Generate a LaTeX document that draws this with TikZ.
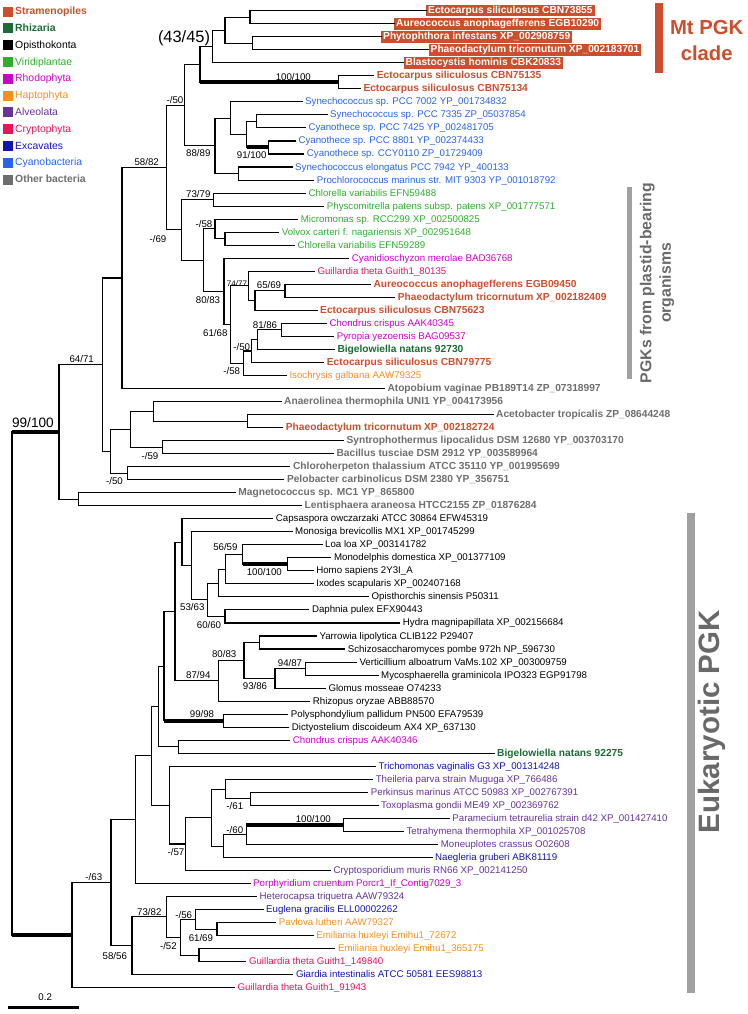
\documentclass[tikz,border=0pt]{standalone}
\usepackage{fontspec}
\setmainfont{Liberation Sans}
\usetikzlibrary{calc}
\definecolor{cStr}{RGB}{204,78,44}
\definecolor{cRhi}{RGB}{27,107,52}
\definecolor{cVir}{RGB}{45,175,45}
\definecolor{cRho}{RGB}{204,0,204}
\definecolor{cHap}{RGB}{247,143,30}
\definecolor{cAlv}{RGB}{102,51,153}
\definecolor{cCry}{RGB}{232,20,90}
\definecolor{cExc}{RGB}{20,20,180}
\definecolor{cCya}{RGB}{40,100,235}
\definecolor{cBac}{RGB}{110,110,110}
\definecolor{cBar}{RGB}{160,160,160}
\definecolor{cTxt}{RGB}{105,105,105}
\newcommand\tipfont{\fontsize{9.7}{11}\selectfont}
\newcommand\tipbold{\fontsize{10.2}{12}\selectfont\bfseries}
\newcommand\lgfont{\fontsize{10.4}{12}\selectfont}
\newcommand\tp[4]{\coordinate (t#1) at ({#2-3},{10.7+13.027*(#1-1)});
  \node[lab,#3] (l#1) at (#2,{10.7+13.027*(#1-1)}) {#4};}
\newcommand\bx[3]{\coordinate (t#1) at (#2,{10.7+13.027*(#1-1)});
  \node[boxlab] (l#1) at (t#1) {#3};}
\newcommand\nd[4]{\path let \p1=($(#3)!.5!(#4)$) in (#2pt,\y1) coordinate (#1);
  \draw[br] (#1) |- (#3); \draw[br] (#1) |- (#4);}
\newcommand\thk[2]{\draw[thk] (#1 |- #2) -- (#2);}
\newcommand\sv[4][]{\node[sup,#1] (#2) at (#3) {#4};}
\newcommand\lgd[5]{\node[lsq,fill=#3] (q#1) at (7.7,#2) {};
  \node[lab,text=#3,font=\lgfont#4] (g#1) at (15,#2) {#5};}
\tikzset{
  br/.style={line width=1.1pt, line cap=rect},
  thk/.style={line width=4pt},
  lab/.style={anchor=west, inner sep=0pt, font=\tipfont, text height=7pt, text depth=1pt},
  boxlab/.style={anchor=west, fill=cStr, text=white, font=\tipbold, inner xsep=2pt, inner ysep=0.9pt, text height=7.6pt, text depth=2.2pt},
  sup/.style={inner sep=0pt, font=\tipfont},
  lsq/.style={inner sep=0pt, minimum size=10pt},
  str/.style={text=cStr, font=\tipbold},
  rhi/.style={text=cRhi, font=\tipbold},
  opi/.style={text=black},
  vir/.style={text=cVir},
  rho/.style={text=cRho},
  hap/.style={text=cHap},
  alv/.style={text=cAlv},
  cry/.style={text=cCry},
  exc/.style={text=cExc},
  cya/.style={text=cCya},
  bac/.style={text=cBac, font=\tipbold},
}
\begin{document}
\begin{tikzpicture}[x=1pt,y=-1pt]
\useasboundingbox (0,0) rectangle (747,1014);
% legend
\lgd{1}{11.7}{cStr}{\bfseries}{Stramenopiles}
\lgd{2}{28.5}{cRhi}{\bfseries}{Rhizaria}
\lgd{3}{45.3}{black}{}{Opisthokonta}
\lgd{4}{62.1}{cVir}{}{Viridiplantae}
\lgd{5}{78.9}{cRho}{}{Rhodophyta}
\lgd{6}{95.7}{cHap}{}{Haptophyta}
\lgd{7}{112.5}{cAlv}{}{Alveolata}
\lgd{8}{129.3}{cCry}{}{Cryptophyta}
\lgd{9}{146.1}{cExc}{}{Excavates}
\lgd{10}{162.9}{cCya}{}{Cyanobacteria}
\lgd{11}{179.7}{cBac}{\bfseries}{Other bacteria}
% tips
\bx{1}{426}{Ectocarpus siliculosus CBN73855}
\bx{2}{394}{Aureococcus anophagefferens EGB10290}
\bx{3}{381}{Phytophthora infestans XP\_002908759}
\bx{4}{428.5}{Phaeodactylum tricornutum XP\_002183701}
\bx{5}{403.5}{Blastocystis hominis CBK20833}
\tp{6}{376.7}{str}{Ectocarpus siliculosus CBN75135}
\tp{7}{363.3}{str}{Ectocarpus siliculosus CBN75134}
\tp{8}{305}{cya}{Synechococcus sp. PCC 7002 YP\_001734832}
\tp{9}{330}{cya}{Synechococcus sp. PCC 7335 ZP\_05037854}
\tp{10}{308.3}{cya}{Cyanothece sp. PCC 7425 YP\_002481705}
\tp{11}{298.3}{cya}{Cyanothece sp. PCC 8801 YP\_002374433}
\tp{12}{306.7}{cya}{Cyanothece sp. CCY0110 ZP\_01729409}
\tp{13}{295}{cya}{Synechococcus elongatus PCC 7942 YP\_400133}
\tp{14}{316.7}{cya}{Prochlorococcus marinus str. MIT 9303 YP\_001018792}
\tp{15}{308.3}{vir}{Chlorella variabilis EFN59488}
\tp{16}{326.7}{vir}{Physcomitrella patens subsp. patens XP\_001777571}
\tp{17}{300.7}{vir}{Micromonas sp. RCC299 XP\_002500825}
\tp{18}{281.7}{vir}{Volvox carteri f. nagariensis XP\_002951648}
\tp{19}{297.3}{vir}{Chlorella variabilis EFN59289}
\tp{20}{351.7}{rho}{Cyanidioschyzon merolae BAD36768}
\tp{21}{317.3}{cry}{Guillardia theta Guith1\_80135}
\tp{22}{373.3}{str}{Aureococcus anophagefferens EGB09450}
\tp{23}{397.7}{str}{Phaeodactylum tricornutum XP\_002182409}
\tp{24}{320}{str}{Ectocarpus siliculosus CBN75623}
\tp{25}{329.3}{rho}{Chondrus crispus AAK40345}
\tp{26}{336.7}{rho}{Pyropia yezoensis BAG09537}
\tp{27}{337.3}{rhi}{Bigelowiella natans 92730}
\tp{28}{326.7}{str}{Ectocarpus siliculosus CBN79775}
\tp{29}{289.3}{hap}{Isochrysis galbana AAW79325}
\tp{30}{387.3}{bac}{Atopobium vaginae PB189T14 ZP\_07318997}
\tp{31}{284}{bac}{Anaerolinea thermophila UNI1 YP\_004173956}
\tp{32}{496}{bac}{Acetobacter tropicalis ZP\_08644248}
\tp{33}{285.7}{str}{Phaeodactylum tricornutum XP\_002182724}
\tp{34}{346.4}{bac}{Syntrophothermus lipocalidus DSM 12680 YP\_003703170}
\tp{35}{336.4}{bac}{Bacillus tusciae DSM 2912 YP\_003589964}
\tp{36}{292.9}{bac}{Chloroherpeton thalassium ATCC 35110 YP\_001995699}
\tp{37}{286.8}{bac}{Pelobacter carbinolicus DSM 2380 YP\_356751}
\tp{38}{238.2}{bac}{Magnetococcus sp. MC1 YP\_865800}
\tp{39}{304.5}{bac}{Lentisphaera araneosa HTCC2155 ZP\_01876284}
\tp{40}{275.7}{opi}{Capsaspora owczarzaki ATCC 30864 EFW45319}
\tp{41}{295}{opi}{Monosiga brevicollis MX1 XP\_001745299}
\tp{42}{325}{opi}{Loa loa XP\_003141782}
\tp{43}{333.9}{opi}{Monodelphis domestica XP\_001377109}
\tp{44}{316.1}{opi}{Homo sapiens 2Y3I\_A}
\tp{45}{316.1}{opi}{Ixodes scapularis XP\_002407168}
\tp{46}{371.4}{opi}{Opisthorchis sinensis P50311}
\tp{47}{311.8}{opi}{Daphnia pulex EFX90443}
\tp{48}{402.7}{opi}{Hydra magnipapillata XP\_002156684}
\tp{49}{319.3}{opi}{Yarrowia lipolytica CLIB122 P29407}
\tp{50}{347.7}{opi}{Schizosaccharomyces pombe 972h NP\_596730}
\tp{51}{359.3}{opi}{Verticillium alboatrum VaMs.102 XP\_003009759}
\tp{52}{381}{opi}{Mycosphaerella graminicola IPO323 EGP91798}
\tp{53}{328.3}{opi}{Glomus mosseae O74233}
\tp{54}{312.7}{opi}{Rhizopus oryzae ABB88570}
\tp{55}{290.7}{opi}{Polysphondylium pallidum PN500 EFA79539}
\tp{56}{291.7}{opi}{Dictyostelium discoideum AX4 XP\_637130}
\tp{57}{292.7}{rho}{Chondrus crispus AAK40346}
\tp{58}{497}{rhi}{Bigelowiella natans 92275}
\tp{59}{378.3}{exc}{Trichomonas vaginalis G3 XP\_001314248}
\tp{60}{375.6}{alv}{Theileria parva strain Muguga XP\_766486}
\tp{61}{370.7}{alv}{Perkinsus marinus ATCC 50983 XP\_002767391}
\tp{62}{381}{alv}{Toxoplasma gondii ME49 XP\_002369762}
\tp{63}{452.2}{alv}{Paramecium tetraurelia strain d42 XP\_001427410}
\tp{64}{406.3}{alv}{Tetrahymena thermophila XP\_001025708}
\tp{65}{440.7}{alv}{Moneuplotes crassus O02608}
\tp{66}{435}{exc}{Naegleria gruberi ABK81119}
\tp{67}{333.3}{alv}{Cryptosporidium muris RN66 XP\_002141250}
\tp{68}{253}{rho}{Porphyridium cruentum Porcr1\_If\_Contig7029\_3}
\tp{69}{259.5}{alv}{Heterocapsa triquetra AAW79324}
\tp{70}{266}{exc}{Euglena gracilis ELL00002262}
\tp{71}{278.6}{hap}{Pavlova lutheri AAW79327}
\tp{72}{316.1}{hap}{Emiliania huxleyi Emihu1\_72672}
\tp{73}{337.9}{hap}{Emiliania huxleyi Emihu1\_365175}
\tp{74}{248.8}{cry}{Guillardia theta Guith1\_149840}
\tp{75}{295.8}{exc}{Giardia intestinalis ATCC 50581 EES98813}
\tp{76}{237.3}{cry}{Guillardia theta Guith1\_91943}
% Mt clade
\nd{a12}{250}{t1}{t2}
\nd{a34}{252.7}{t3}{t4}
\nd{a1234}{225}{a12}{a34}
\nd{a5}{212.7}{a1234}{t5}
\nd{a67}{338.3}{t6}{t7}
\nd{aMt}{200}{a5}{a67}
\thk{aMt}{a67}
% cyanobacteria
\nd{c910}{256.7}{t9}{t10}
\nd{c1112}{268.3}{t11}{t12}
\nd{cA}{246.7}{c910}{c1112}
\thk{cA}{c1112}
\nd{cB}{230.7}{t8}{cA}
\nd{c1314}{238.3}{t13}{t14}
\nd{cC}{215}{cB}{c1314}
\nd{k1}{184.3}{aMt}{cC}
% plastid
\nd{p1516}{213.3}{t15}{t16}
\nd{p1819}{225}{t18}{t19}
\nd{p58}{215}{t17}{p1819}
\nd{p2223}{285}{t22}{t23}
\nd{p224}{255}{p2223}{t24}
\nd{p21}{248.3}{t21}{p224}
\nd{p2526}{281.7}{t25}{t26}
\nd{p27}{257.3}{p2526}{t27}
\nd{p28}{251.7}{p27}{t28}
\nd{p29}{243.3}{p28}{t29}
\nd{pS}{230.7}{p21}{p29}
\nd{pR}{224}{t20}{pS}
\nd{pQ}{203.3}{p58}{pR}
\nd{pP}{181.7}{p1516}{pQ}
\nd{k2}{166.7}{k1}{pP}
\nd{k3}{122}{k2}{t30}
% bacteria
\nd{b3233}{247.5}{t32}{t33}
\nd{b31}{153.8}{t31}{b3233}
\nd{b3435}{162.4}{t34}{t35}
\nd{b4}{130.5}{b31}{b3435}
\nd{b3637}{127.8}{t36}{t37}
\nd{b5}{110.5}{b4}{b3637}
\nd{V}{102.5}{k3}{b5}
\nd{m3839}{78.5}{t38}{t39}
\nd{U}{59}{V}{m3839}
% opisthokonts
\nd{e4344}{287.5}{t43}{t44}
\nd{e42}{242.9}{t42}{e4344}
\thk{e42}{e4344}
\nd{e45}{225.3}{e42}{t45}
\nd{e46}{218.5}{e45}{t46}
\nd{e4748}{225}{t47}{t48}
\nd{e53}{207.8}{e46}{e4748}
\nd{e41}{191.4}{t41}{e53}
\nd{e40}{182}{t40}{e41}
\nd{f4950}{259.3}{t49}{t50}
\nd{f5152}{305.7}{t51}{t52}
\nd{f53}{275}{f5152}{t53}
\nd{f80}{244}{f4950}{f53}
\nd{f54}{218.7}{f80}{t54}
\nd{opk}{175}{e40}{f54}
\nd{d5556}{223.7}{t55}{t56}
\nd{od}{164}{opk}{d5556}
\thk{od}{d5556}
\nd{g5758}{178.8}{t57}{t58}
\nd{h2}{158.3}{od}{g5758}
% alveolates etc.
\nd{x6162}{250.1}{t61}{t62}
\nd{x60}{225.2}{t60}{x6162}
\nd{x6364}{343.9}{t63}{t64}
\nd{x65}{246.3}{x6364}{t65}
\thk{x65}{x6364}
\nd{x66}{223.3}{x65}{t66}
\nd{x200}{211.8}{x60}{x66}
\nd{x67}{185.1}{x200}{t67}
\nd{x59}{169.3}{t59}{x67}
\nd{h3}{151.2}{h2}{x59}
\nd{T}{135.6}{h3}{t68}
% bottom
\nd{y7172}{217}{t71}{t72}
\nd{y70}{195.9}{t70}{y7172}
\nd{y7374}{199}{t73}{t74}
\nd{yI}{180.6}{y70}{y7374}
\nd{yH}{166.5}{t69}{yI}
\nd{yG}{132}{yH}{t75}
\nd{F}{111}{T}{yG}
\nd{E}{72}{F}{t76}
\nd{root}{12}{U}{E}
\thk{root}{U}
\thk{root}{E}
% support values
\sv[font=\fontsize{16.4}{18}\selectfont]{s1}{184,38}{(43/45)}
\sv{s2}{293.3,77.3}{100/100}
\sv{s3}{175,100}{-/50}
\sv{s4}{146.7,162.3}{58/82}
\sv{s5}{198.3,153.3}{88/89}
\sv{s6}{251.7,155}{91/100}
\sv{s7}{198.3,194.3}{73/79}
\sv{s8}{204,224}{-/58}
\sv{s9}{158,239}{-/69}
\sv{s10}{208,300}{80/83}
\sv[font=\fontsize{8}{9}\selectfont]{s11}{237,283.3}{74/77}
\sv{s12}{269,285}{65/69}
\sv{s13}{215.3,333.3}{61/68}
\sv{s14}{265,325}{81/86}
\sv{s15}{241.7,346.7}{-/50}
\sv{s16}{231.7,371.2}{-/58}
\sv{s17}{81.7,359}{64/71}
\sv[font=\fontsize{13.6}{15}\selectfont]{s18}{32.9,422.7}{99/100}
\sv{s19}{150,456}{-/59}
\sv{s20}{114.5,481}{-/50}
\sv{s21}{225.4,547}{56/59}
\sv{s22}{264.3,571.7}{100/100}
\sv{s23}{192.3,607.5}{53/63}
\sv{s24}{209,624.7}{60/60}
\sv{s25}{224.2,653.8}{80/83}
\sv{s26}{290,662.7}{94/87}
\sv{s27}{198.3,675.5}{87/94}
\sv{s28}{255,686}{93/86}
\sv{s29}{202,714}{99/98}
\sv{s30}{234.8,806}{-/61}
\sv{s31}{313.3,819.3}{100/100}
\sv{s32}{234.8,830}{-/60}
\sv{s33}{176,852}{-/57}
\sv{s34}{93.8,877.3}{-/63}
\sv{s35}{149.3,912.3}{73/82}
\sv{s36}{183.7,915}{-/56}
\sv{s37}{200.9,938.3}{61/69}
\sv{s38}{168.4,946}{-/52}
\sv{s39}{114.8,956}{58/56}
% scale bar
\coordinate (sb1) at (8.4,1007.7);
\coordinate (sb2) at (78.5,1007.7);
\draw[line width=3pt] (sb1) -- (sb2);
\sv{sbl}{45.2,997.5}{0.2}
% clade bars
\coordinate (mb1) at (659,3.3);
\coordinate (mb2) at (659,72.7);
\draw[line width=8pt, cStr] (mb1) -- (mb2);
\node[align=center, text=cStr, font=\fontsize{20.3}{26}\selectfont\bfseries] (mt) at (706.7,40.3) {Mt PGK\\clade};
\coordinate (pb1) at (629.5,186.7);
\coordinate (pb2) at (629.5,379.3);
\draw[line width=5.6pt, cBar] (pb1) -- (pb2);
\node[rotate=90, align=center, text=cTxt, font=\fontsize{15.8}{19.5}\selectfont\bfseries] (pl) at (657,283) {PGKs from plastid-bearing\\organisms};
\coordinate (eb1) at (691.2,513.3);
\coordinate (eb2) at (691.2,993.3);
\draw[line width=7.7pt, cBar] (eb1) -- (eb2);
\node[rotate=90, text=cTxt, font=\fontsize{29.5}{32}\selectfont\bfseries] (eu) at (711.7,721.7) {Eukaryotic PGK};
\end{tikzpicture}
\end{document}
